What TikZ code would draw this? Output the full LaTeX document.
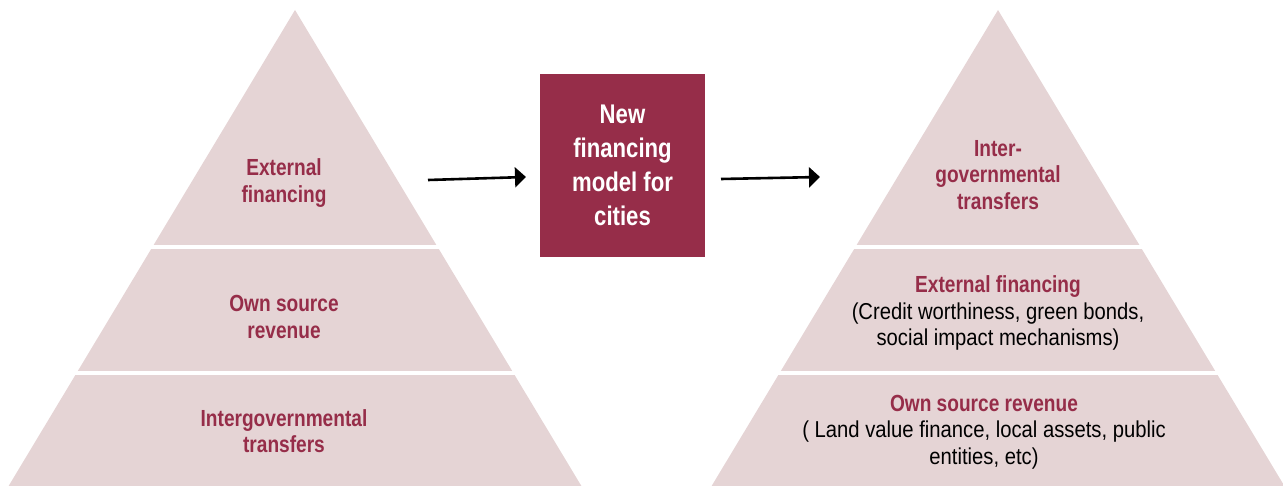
\documentclass[tikz,border=0pt]{standalone}
\usepackage{fontspec}
\setmainfont{Liberation Sans}
\newfontfamily\condb{Liberation Sans}[FakeStretch=0.82]
\newfontfamily\condr{Liberation Sans}[FakeStretch=0.88]
\newcommand\subtxt{\condr\mdseries\color{black}\fontsize{23}{26}\selectfont}
\usetikzlibrary{arrows.meta}
\definecolor{burg}{RGB}{150,45,73}
\definecolor{pyr}{RGB}{229,212,213}
\tikzset{
  pyramid/.style={fill=pyr, draw=none},
  sep/.style={draw=white, line width=3.5pt},
  lbl/.style={align=center, text=burg, font=\condb\bfseries\fontsize{23.3}{26.5}\selectfont, inner sep=0pt},
  box/.style={fill=burg, draw=none, minimum width=165pt, minimum height=183pt, align=center, text=white, font=\condb\bfseries\fontsize{27}{34}\selectfont, inner sep=0pt},
  arr/.style={-{Triangle[length=11pt,width=20pt]}, line width=2.6pt, black}
}
\begin{document}
\begin{tikzpicture}[x=1pt,y=-1pt]
\useasboundingbox (0,0) rectangle (1283,486);
% left pyramid
\fill[pyramid] (295,10) -- (8,487) -- (582,487) -- cycle;
\draw[sep] (100,247) -- (500,247);
\draw[sep] (40,373) -- (560,373);
% right pyramid
\fill[pyramid] (998,10) -- (711,487) -- (1285,487) -- cycle;
\draw[sep] (800,247) -- (1200,247);
\draw[sep] (740,373) -- (1260,373);
% left labels
\node[lbl] (l1) at (284,183) {External\\financing};
\node[lbl] (l2) at (284,317) {Own source\\revenue};
\node[lbl] (l3) at (284,431) {Intergovernmental\\transfers};
% right labels
\node[lbl] (r1) at (998,175) {Inter-\\governmental\\transfers};
\node[lbl] (r2) at (998,313) {External financing\\{\subtxt (Credit worthiness, green bonds,}\\{\subtxt social impact mechanisms)}};
\node[lbl] (r3) at (984,432) {Own source revenue\\{\subtxt ( Land value finance, local assets, public}\\{\subtxt entities, etc)}};
% centre box
\node[box] (box) at (622.5,165.5) {New\\financing\\model for\\cities};
% arrows
\coordinate (a1s) at (428,180);
\coordinate (a1e) at (526,177);
\coordinate (a2s) at (721,179);
\coordinate (a2e) at (820,177);
\draw[arr] (a1s) -- (a1e);
\draw[arr] (a2s) -- (a2e);
\end{tikzpicture}
\end{document}
